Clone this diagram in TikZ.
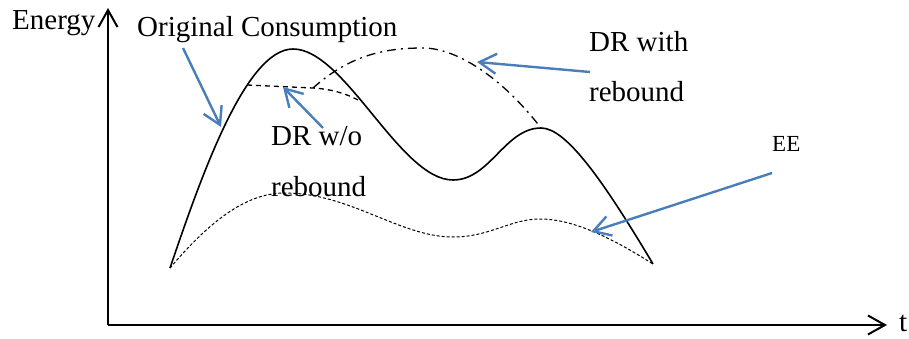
\documentclass[tikz,border=0pt]{standalone}
\usepackage{fontspec}
\setmainfont{Liberation Serif}
\usetikzlibrary{arrows.meta}
\definecolor{arrblue}{RGB}{74,126,187}
\begin{document}
\begin{tikzpicture}[x=1pt,y=-1pt,
  lbl/.style={anchor=base west,inner sep=0pt,font=\fontsize{29}{30}\selectfont},
  smalllbl/.style={anchor=base west,inner sep=0pt,font=\fontsize{23}{24}\selectfont},
  axis/.style={line width=2pt,-{Straight Barb[length=17pt,width=19pt,line width=2pt]}},
  curve/.style={line width=1.6pt},
  pointer/.style={draw=arrblue,line width=2.4pt,-{Straight Barb[length=17pt,width=20pt,line width=2.4pt]}},
  drdash/.style={line width=1.3pt,dash pattern=on 5pt off 4pt},
  drdot/.style={line width=1.3pt,dash pattern=on 9pt off 5pt on 2pt off 5pt},
  eedot/.style={line width=1pt,dash pattern=on 3pt off 2pt}]
\useasboundingbox (0,0) rectangle (909,339);
% axes
\coordinate (O) at (108,325);
\coordinate (ytip) at (108,8);
\coordinate (xtip) at (887,325);
\draw[axis] (O) -- (ytip);
\draw[axis] (O) -- (xtip);
\node[lbl] (energy) at (12,30) {Energy};
\node[lbl] (tlab) at (899,331) {t};
% original consumption
\coordinate (s0) at (170,268);
\coordinate (s1) at (293,49);
\coordinate (s2) at (453,180);
\coordinate (s3) at (541,128);
\coordinate (s4) at (653,264);
\draw[curve] (s0) .. controls (200,180) and (245,49) .. (s1)
  .. controls (345,49) and (400,180) .. (s2)
  .. controls (490,180) and (505,128) .. (s3)
  .. controls (565,128) and (600,175) .. (s4);
% DR w/o rebound
\coordinate (d0) at (247,85);
\coordinate (d1) at (313,88);
\coordinate (d2) at (358,100);
\draw[drdash] (d0) -- (d1) .. controls (330,89) and (345,93) .. (d2);
% DR with rebound
\coordinate (r1) at (423,48);
\draw[drdot] (d1) .. controls (350,55) and (385,48) .. (r1)
  .. controls (455,48) and (500,75) .. (s3);
% EE
\coordinate (e1) at (285,193);
\coordinate (e2) at (453,237);
\coordinate (e3) at (540,219);
\draw[eedot] (s0) .. controls (215,215) and (250,193) .. (e1)
  .. controls (350,193) and (400,237) .. (e2)
  .. controls (490,237) and (510,219) .. (e3)
  .. controls (575,219) and (615,240) .. (s4);
% labels
\node[lbl] (orig) at (137,37) {Original Consumption};
\node[lbl] (drwith) at (589,52) {DR with};
\node[lbl] (drwithb) at (589,102) {rebound};
\node[lbl] (drwo) at (271,146) {DR w/o};
\node[lbl] (drwob) at (271,196) {rebound};
\node[smalllbl] (ee) at (772,152) {EE};
% pointers
\coordinate (p1s) at (183,48); \coordinate (p1e) at (221,127);
\coordinate (p2s) at (323,128); \coordinate (p2e) at (283,87);
\coordinate (p3s) at (590,72); \coordinate (p3e) at (477,62);
\coordinate (p4s) at (772,173); \coordinate (p4e) at (591,232);
\draw[pointer] (p1s) -- (p1e);
\draw[pointer] (p2s) -- (p2e);
\draw[pointer] (p3s) -- (p3e);
\draw[pointer] (p4s) -- (p4e);
\end{tikzpicture}
\end{document}
